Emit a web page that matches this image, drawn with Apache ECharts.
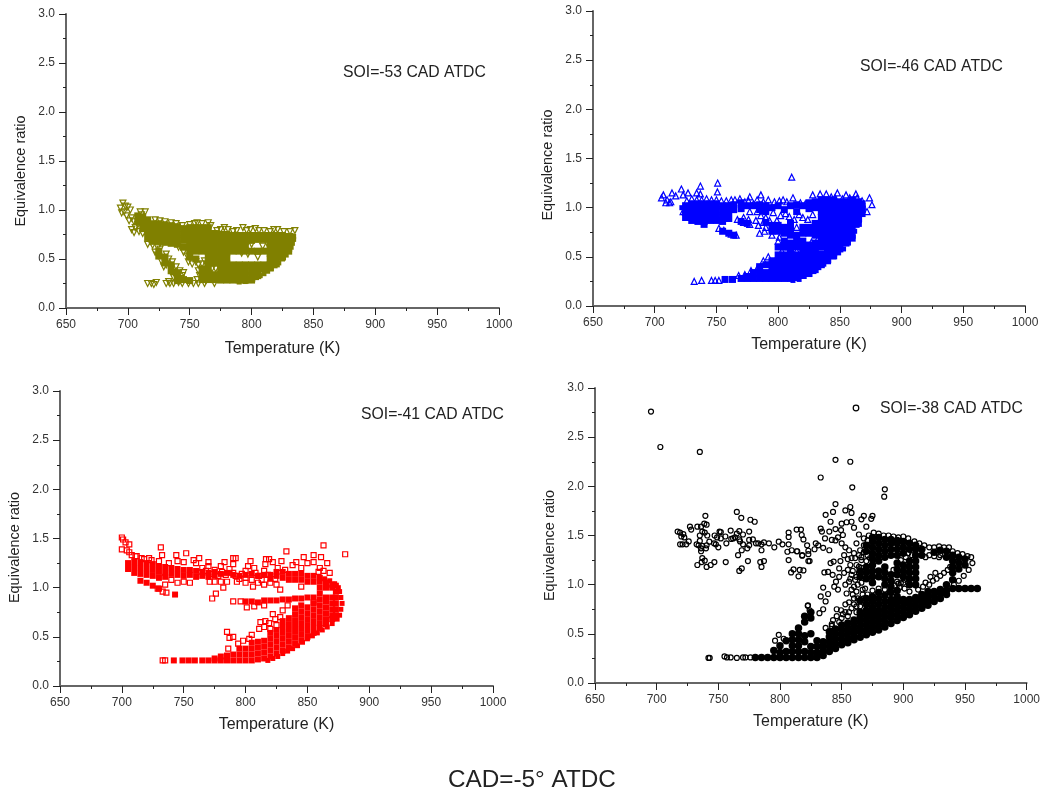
<!DOCTYPE html>
<html><head><meta charset="utf-8">
<script src="https://cdn.jsdelivr.net/npm/echarts@6/dist/echarts.min.js"></script>
<style>html,body{margin:0;padding:0;background:#fff}#c{width:1043px;height:792px}</style>
</head><body><div id="c"></div>
<script>
const xTicks = {min:650, max:1000, step:50};
const yTicks = {min:0, max:3, step:0.5};
const panelTitles = ['SOI=-53 CAD ATDC','SOI=-46 CAD ATDC','SOI=-41 CAD ATDC','SOI=-38 CAD ATDC'];
const xName = 'Temperature (K)';
const yName = 'Equivalence ratio';
const caption = 'CAD=-5\u00B0 ATDC';

// Solid regions: each row is [temperature, ratio, ratio, ...]
const soi53Solid = [
[708,.94,.88],[712,.93,.87,.81],[716,.9,.84,.78,.72],[720,.86,.8,.74,.68],[725,.86,.8,.74,.68,.58,.53],
[730,.85,.79,.73,.67,.52,.46],[735,.84,.78,.72,.66,.44,.38],[740,.83,.77,.71,.65,.36,.3,.28],[745,.81,.75,.69,.62,.29],
[750,.82,.76,.7,.64,.58,.52,.28],[755,.82,.76,.7,.64,.58,.5],[760,.82,.76,.7,.64,.58,.4,.34,.29],
[765,.82,.76,.7,.64,.58,.52,.46,.4,.34,.29],[770,.76,.7,.64,.58,.52,.46,.34,.29],
[775,.75,.69,.63,.57,.51,.45,.4,.34,.285],[780,.75,.69,.63,.57,.51,.45,.39,.34,.285],
[785,.74,.68,.62,.58,.44,.39,.34,.285],[790,.74,.68,.62,.58,.44,.39,.34,.285],[795,.74,.68,.62,.58,.44,.38,.33,.285],
[800,.74,.69,.58,.44,.38,.33,.285],[805,.74,.7,.58,.44,.38,.33],[810,.74,.7,.58,.44,.4],
[815,.74,.68,.62,.56,.5,.44,.41],[820,.74,.68,.62,.56,.5,.45],[825,.74,.68,.62,.56,.52],[830,.73,.67,.61,.58]
];
const soi53Edge = [[790,.265],[795,.27],[798,.28],[801,.295],[804,.31],[807,.33],[810,.35],[813,.375],[816,.4],[819,.43],[822,.46],[825,.5],[828,.54],[830,.58],[832,.62],[833,.66],[834,.7],[832,.74],[834,.73]];
const soi53Open = [
[696,1.07],[698,1.04],[694,1.02],[700,1.03],[697,.98],[702,1.0],[695,.97],[699,.94],[703,.92],[701,.89],[705,.88],[708,.85],
[706,.82],[703,.8],[709,.78],[712,.76],[705,.77],[710,.98],[714,.98],[711,.95],[718,.68],[716,.65],[720,.64],[724,.62],[726,.66],
[722,.57],[724,.54],[727,.48],[731,.44],[729,.42],[735,.41],[737,.36],[741,.33],[743,.3],[741,.26],
[726,.6],[731,.55],[733,.5],[736,.47],[739,.42],[742,.38],[745,.36],[744,.33],[737,.31],[733,.27],
[760,.45],[757,.38],[758,.33],[756,.29],[763,.28],[768,.4],[771,.4],
[716,.25],[719,.25],[723,.26],[721,.24],[731,.25],[734,.25],[737,.25],[744,.25],[749,.25],[753,.25],[757,.25],[762,.25],[770,.25],
[722,.9],[726,.89],[730,.88],[735,.87],[739,.86],[744,.84],[750,.85],[754,.86],
[756,.87],[760,.86],[765,.87],[767,.84],[772,.79],[775,.8],[778,.82],[781,.8],[785,.78],[788,.79],[793,.82],[796,.79],[799,.8],[803,.81],[806,.79],
[810,.79],[815,.78],[818,.8],[821,.8],[826,.78],[831,.78],[835,.79],[749,.47],[752,.45],[755,.47],[757,.44],
[741,.62],[745,.57],[748,.53],[762,.48],[766,.52],[773,.47],[792,.56],[797,.55],[805,.52],[809,.63],[813,.65],[800,.65],[768,.33]
];
const soi46Solid = [
[725,1.02,.96,.9],[730,1.04,.98,.92,.87],[735,1.04,.98,.92,.86],[740,1.04,.98,.92,.86,.83],[745,1.04,.98,.92,.87],
[750,1.04,.98,.92,.87],[755,1.02,.96,.9,.86,.76],[760,1.02,.96,.89,.74],[764,1.03,.98,.72],[770,1.05,.99,.86,.28],
[757,.27],[763,.27],[775,1.02,.84,.28,.3],[780,1.02,.28,.34],[785,1.03,.98,.28,.34,.4],[790,1.02,.96,.85,.28,.34,.42],
[795,1.0,.82,.76,.28,.34,.4,.46],[800,1.02,.82,.76,.6,.28,.34,.4,.46,.52],[805,.98,.8,.74,.66,.6,.28,.34,.4,.46,.52],
[810,1.02,.84,.78,.72,.64,.58,.28,.34,.4,.46,.52],[815,1.03,.96,.72,.66,.6,.29,.34,.4,.46,.52],
[820,1.02,.8,.74,.66,.6,.31,.36,.42,.48,.54],[825,1.05,.99,.8,.74,.62,.33,.38,.44,.5,.56],
[830,1.06,1.0,.84,.78,.72,.64,.37,.42,.48,.54,.58],[835,1.08,1.02,.96,.9,.84,.78,.72,.66,.6,.42,.47,.53],
[840,1.08,1.03,.98,.92,.86,.8,.74,.68,.62,.56,.46,.51],[845,1.08,1.02,.96,.9,.84,.78,.72,.66,.6,.54,.51],
[850,1.06,1.0,.94,.88,.82,.76,.7,.64,.58],[855,1.06,1.0,.94,.88,.82,.76,.7,.64],
[860,1.08,1.02,.96,.9,.84,.78,.72,.69],[865,1.06,1.0,.94,.88,.84],[868,1.04,.98,.94]
];
const soi46Edge = [[812,.26],[817,.27],[821,.3],[825,.325],[829,.35],[833,.39],[837,.425],[841,.46],[845,.5],[849,.54],[853,.58],[857,.64],[860,.7],[862,.76],[864,.82],[866,.88],[868,.94],[869,1.0],[722,1.0],[724,.94]];
const soi46Open = [
[811,1.31],[751,1.25],[737,1.22],[721.6,1.19],[750.8,1.16],[714,1.15],[707,1.13],[705.5,1.1],[727,1.15],[723,1.13],[734,1.15],[737,1.14],[717,1.12],
[710,1.08],[709,1.05],[712,1.05],[713,1.06],[723,.96],[786,1.13],[777,1.11],[792,1.08],[828,1.13],[834,1.14],[839,1.14],[848,1.15],[855,1.13],[863,1.14],
[874,1.1],[876,1.03],[872,.96],[777,.96],[785,.74],[789,.76],[732,.25],[738,.26],[746,.26],[749,.26],[752,.26],
[726,1.07],[730,1.09],[734,1.08],[738,1.08],[742,1.09],[746,1.08],[750,1.08],[754,1.07],[758,1.07],[762,1.08],[843,1.11],[846,1.1],[852,1.09],[858,1.1],[864,1.1],[868,1.07],
[765,1.08],[769,1.09],[773,1.06],[776,1.07],[780,1.04],[783,1.08],[788,1.06],[797,1.06],[801,1.07],[804,1.08],[807,1.06],[812,1.1],[818,1.05],[822,1.04],
[767,.88],[772,.9],[776,.88],[782,.87],[786,.92],[790,.9],[793,.87],[799,.87],[802,.92],[806,.94],[809,.91],[813,.88],[817,.93],[820,.9],[824,.88],[828,.93],[790,.8],[788,.85],
[752,.79],[756,.77],[762,.73],[766,.72],[784,.82],[772,.85],[777,.83],[801,.7],[795,.72],[788,.97],[783,.96],[796,.95],[826,.6],[832,.68],[815,.8],
[800,.66],[808,.6],[778,.36],[783,.38],[773,.32],[768,.31],[788,.46],[792,.5],[803,.56],[815,.56],[823,.58],[827,.65]
];
const soi41Solid = [
[705,1.25,1.19],[710,1.27,1.21,1.15],[715,1.26,1.2,1.14,1.07],[720,1.25,1.19,1.13,1.05],[725,1.24,1.18,1.12,1.02],[730,1.22,1.16,1.1,.99],
[735,1.21,1.15,1.11],[740,1.2,1.14],[743,.93],[745,1.19,1.13],[750,1.18,1.12],[755,1.18,1.13],[760,1.17,1.11],[765,1.16,1.12],[770,1.15,1.11],
[775,1.16,1.12],[780,1.14],[785,1.15],[790,1.13],[795,1.12],[800,1.13],[805,1.14],[810,1.12],[815,1.13],[820,1.13,1.09],
[830,1.1,1.16],[835,1.08,1.14],[840,1.08,1.14],[845,1.08,1.14],[825,1.12,1.16],
[800,.86],[805,.86],[810,.85],[815,.87],[820,.87],[825,.87],[830,.88],[835,.88],[840,.89],[845,.89],
[742,.26],[749,.26],[754,.26],[759,.26],
[765,.26],[770,.26],[775,.26,.28],[780,.26,.3],[785,.26,.31],[790,.26,.32],[795,.26,.32,.38],[800,.26,.32,.38],[805,.26,.32,.38,.44],
[810,.27,.33,.39,.45],[815,.28,.34,.4,.46],[820,.3,.36,.42,.48,.54],[825,.33,.39,.45,.51,.57],[830,.36,.42,.48,.54,.6,.66],
[835,.39,.45,.51,.57,.63,.69],[840,.43,.49,.55,.61,.67,.73,.79],[845,.46,.52,.58,.64,.7,.76,.82],
[850,.5,.56,.62,.68,.74,.8,.9,1.06,1.12],[855,.54,.6,.66,.72,.78,.84,.9,1.06,1.12],
[860,.59,.64,.7,.76,.82,.88,.94,1.0,1.06,1.1],[865,.63,.68,.74,.8,.86,.9,1.0,1.05],[870,.68,.72,.78,.84,.9,1.0,1.03],[873,.72,.78,.84,.9,.96,1.02]
];
const soi41Edge = [[818,.26],[822,.28],[826,.3],[830,.33],[834,.355],[838,.38],[842,.41],[846,.445],[850,.48],[854,.51],[858,.54],[862,.57],[866,.6],[870,.635],[874,.68],[876,.72],[877,.78],[878,.84],[877,.9],[876,.96],[875,1.0],[872,1.04],[868,1.07],[864,1.09]];
const soi41Open = [
[700,1.51],[701,1.49],[703,1.46],[706,1.44],[704,1.38],[700,1.39],[706,1.36],[708,1.33],[711,1.32],[731.5,1.41],[732.5,1.33],[752,1.35],[744,1.33],[722,1.3],[712,1.32],[716,1.3],
[833,1.37],[863,1.43],[880.5,1.34],[847,1.31],[855,1.33],[861,1.31],[866,1.25],[868,1.15],[859,1.16],[816.5,1.29],[819,1.29],[790,1.3],[792,1.3],[783,1.26],[770,1.26],[762.5,1.3],[758,1.28],
[773,.89],[776,.94],[782,1.0],[771,1.06],[775,1.06],[780,1.06],[793,1.06],[800,1.05],[806,1.01],[790,.86],[796,.86],[801,.8],[807,.81],[815,.82],[785,.55],[787,.49],[790,.5],[798,.46],
[805,.52],[803,.48],[811,.58],[816,.66],[822,.73],[830,.77],[834,.82],[828,.98],[845,1.01],[855,.85],[786,.38],[794,.43],[812,.65],[819,.64],[824,.68],[828,.7],[815,.6],[820,.58],[825,.62],
[765,1.2],[768,1.17],[772,1.14],[775,1.18],[778,1.12],[781,1.16],[784,1.13],[787,1.19],[790,1.15],[790,1.24],[792,1.12],[795,1.09],[797,1.14],[800,1.17],[802,1.22],[804,1.27],[807,1.2],[808,1.15],
[811,1.12],[813,1.08],[815,1.17],[816,1.24],[818,1.13],[820,1.05],[822,1.26],[824,1.09],[826,1.2],[829,1.27],[832,1.18],[838,1.23],[841,1.26],[845,1.2],[850,1.25],[855,1.26],[860,1.2],[863,1.17],
[800,1.1],[805,1.08],[810,1.05],[815,1.03],[825,1.03],[780,1.22],[770,1.22],[760,1.25],[750,1.26],[745,1.27],[738,1.25],[730,1.27],[724,1.28],[718,1.29],[785,1.06],
[733,.26],[735,.26],[729,.99],[733,.96],[736,.95],[735,1.03],[740,1.08],[745,1.05],[750,1.06],[755,1.05]
];
const soi38Solid = [
[780,.26],[785,.26],[790,.26],[795,.26,.33],[800,.26,.31,.38],[805,.26,.32,.43],[810,.26,.32,.38,.44,.5],[815,.26,.32,.38,.44,.5,.56],
[820,.26,.32,.42,.48,.62,.68],[825,.26,.31,.37,.5,.66,.72],[830,.26,.31,.37,.43],
[835,.28,.33,.38,.42],[840,.32,.37,.42,.47,.52],[845,.35,.4,.45,.5,.55],[850,.39,.44,.49,.54,.59],[855,.41,.46,.51,.56,.61],[860,.44,.49,.54,.59,.64],
[865,.465,.52,.57,.62,.67,.72,.84,1.08,1.14],
[870,.49,.54,.59,.64,.69,.74,.8,.86,1.06,1.12,1.18,1.34,1.4],
[875,.515,.57,.62,.67,.72,.77,.83,.88,1.02,1.08,1.14,1.2,1.26,1.32,1.38,1.44,1.48],
[880,.54,.59,.64,.69,.74,.8,.86,.92,1.08,1.14,1.24,1.3,1.36,1.42,1.48],
[885,.57,.62,.67,.72,.77,.83,.89,1.0,1.06,1.12,1.18,1.28,1.34,1.4,1.46],
[890,.605,.66,.71,.76,.8,.85,.92,.98,1.04,1.1,1.3,1.36,1.42,1.46],
[895,.635,.69,.74,.79,.83,.88,.94,1.1,1.16,1.22,1.3,1.36,1.42,1.45],
[900,.665,.72,.77,.82,.85,1.08,1.14,1.2,1.32,1.38,1.44],
[905,.695,.75,.8,.85,1.0,1.06,1.12,1.18,1.24,1.36,1.42],
[910,.73,.78,.83,.87,1.0,1.06,1.12,1.18,1.24,1.3,1.36,1.4],
[915,.76,.81,.86,.9,1.3,1.36],[920,.79,.84,.89,.93],[925,.83,.88,.93,1.33],[930,.86,.91,.95,1.35],
[935,.9,.94,1.0,1.28,1.34],[940,.96,1.05,1.12,1.18,1.24,1.3],[945,.96,1.16,1.22,1.28],[950,.96,1.2,1.26],[955,.96],[960,.96]
];
const soi38Edge = [];
const soi38Open = [
[695.4,2.76],[703,2.4],[735,2.35],[765,1.74],[739.5,1.7],[768.6,1.68],[776,1.66],[779.5,1.64],[740.5,1.61],[738.6,1.62],[727,1.59],[733,1.59],[736,1.59],[728,1.56],[737,1.54],[739,1.53],
[717,1.54],[719,1.53],[721.6,1.515],[720,1.49],[722.4,1.48],[735,1.5],[741,1.5],[751,1.54],[752,1.535],[760,1.55],[767,1.545],[765,1.52],[775,1.54],[747,1.5],[749,1.48],[755.7,1.49],[752,1.47],
[763.5,1.48],[762,1.47],[760.5,1.465],[767,1.46],[770,1.51],[775,1.455],[778,1.46],[719,1.41],[721,1.41],[724,1.41],[726,1.44],[735,1.445],[742.7,1.437],[732.4,1.41],[734,1.4],[737,1.395],[740.5,1.4],
[736,1.37],[736,1.34],[740,1.37],[746.5,1.42],[748,1.41],[750,1.38],[756.5,1.42],[767.6,1.44],[770,1.41],[775,1.4],[773.5,1.37],[780.5,1.42],[782.4,1.42],[785,1.41],[787,1.43],[791,1.42],[795.4,1.38],
[799,1.437],[802,1.41],[785,1.35],[769,1.35],[766,1.3],[737,1.27],[739,1.245],[736.5,1.23],[733,1.2],[740.5,1.18],[743.8,1.2],[746.8,1.23],[756,1.23],[774,1.24],[784,1.23],[787,1.24],[785,1.18],[767,1.14],
[769,1.165],[807,1.25],[809,1.125],[811,1.155],[815,1.085],[816,1.15],[819,1.145],[807,1.53],[807,1.485],[813.5,1.56],[817,1.56],[817.6,1.505],[819,1.46],[807,1.41],[822,1.4],[806,1.335],[809.5,1.35],[814,1.34],[818,1.3],[823,1.345],[824,1.24],
[796,.43],[799,.49],[803,.45],[822.7,.79],[824,.74],[742,.255],[743,.255],[755,.27],[757,.26],[760,.26],[765,.255],[770,.26],[772,.26],[776,.26],
[845,2.27],[857,2.25],[833,2.09],[858.6,1.99],[885,1.97],[884.5,1.895],[845,1.82],[857,1.79],[853,1.755],[858,1.73],[837,1.71],[843,1.74],[868,1.7],[866,1.665],[875,1.7],[874,1.67],[841,1.64],[854,1.635],[850,1.62],[858,1.64],
[833,1.57],[834,1.54],[840,1.54],[845,1.565],[849.5,1.555],[860,1.58],[870,1.59],[836.5,1.47],[842,1.455],[847,1.48],[851,1.505],[864,1.51],[829,1.42],[831,1.4],[835,1.375],[840,1.35],[823,1.31],[828,1.36],[818,1.295],[823,1.24],[813.6,1.34],
[841,1.22],[843.5,1.235],[849,1.24],[855,1.26],[836,1.125],[839,1.13],[842.7,1.1],[848,1.165],[848,1.08],[845.4,1.03],[844,.98],[847,.95],[835,.97],[839,.905],[833,.88],[837,.83],[822.5,.785],[854,.91],[860,.86],[856,.82],[832,.71],[835,.75],[843,.64],[837,.56],[849.5,.74],
[845,1.45],[850,1.42],[853,1.38],[856,1.35],[852,1.3],[858,1.27],[855,1.15],[852,1.12],[858,1.1],[856,1.03],[853,1.0],[860,.98],[858,.95],[851,.7],[856,.72],[862,.78],[865,.83],[868,.86],[871,.9],[861,1.05],[864,1.12],[862,1.2],[866,1.25],
[860,1.32],[865,1.35],[862,1.42],[868,1.47],[872,1.5],[876,1.53],[880,1.52],[884,1.5],[888,1.5],[892,1.49],[896,1.48],[900,1.49],[904,1.47],[909,1.44],[913,1.42],[917,1.4],[921,1.38],[925,1.38],[929,1.39],[933,1.38],[937,1.38],[940,1.34],
[944,1.32],[948,1.31],[952,1.29],[955,1.28],[956,1.22],[953,1.15],[949,1.09],[945,1.04],[941,1.0],[875,.94],[880,.96],[885,.95],[889,.93],[893,.99],[897,.97],[901,.96],[905,.93],[892,1.15],[896,1.01],[900,1.02],
[921,1.0],[924,1.04],[927,1.06],[930,1.09],[933,1.12],[936,1.15],[938,1.18],[921,1.3],[925,1.29],[929,1.28],[918,1.28],[930,1.3],[926,1.12],[922,1.08],
[846,.75],[853,.8],[867,.95],[850,.66],[866,1.28],[868,1.33],[863,1.0],[859,.9],
[862,.72],[858,.76],[865,.78],[867,.9],[863,.86],[869,.96],[866,1.02],[868,1.1],[866,1.17],[870,1.24],[871,1.3],[868,1.4],[871,1.45],[873,1.27],
[862,1.08],[864,1.18],[859,1.14],[857,1.2],[861,1.27],[864,1.3],[857,1.06],[862,.93],[860,.8],[855,.68],[848,.62],[853,.72],[846,.68],[842,.58],
[902,1.28],[898,1.25],[904,1.32],[907,1.3],[901,1.05],[898,1.02],[895,1.03],[912,.95],[916,.98],[918,1.02],[842,.6]
];

const grids = [
  {left:66, top:14, width:433, height:294},
  {left:593, top:11, width:432, height:295},
  {left:60, top:391, width:433, height:295},
  {left:595, top:388, width:433, height:295}
];
const titlePos = [[343,65],[860,59],[361,407],[880,401]];
const xNameGap = [33,31,31,31];
const yNameShift = [20,13,18,20];
const styles = [
  {c:'#808000', sym:'triangle', rot:180, size:6, solid:7, solidSym:'rect'},
  {c:'#0000ff', sym:'triangle', rot:0, size:6, solid:7, solidSym:'rect'},
  {c:'#ff0000', sym:'rect', rot:0, size:5, solid:6, solidSym:'rect'},
  {c:'#000000', sym:'circle', rot:0, size:5, solid:7.5, solidSym:'circle'}
];
const solidSets = [soi53Solid, soi46Solid, soi41Solid, soi38Solid];
const edgeSets = [soi53Edge, soi46Edge, soi41Edge, soi38Edge];
const openSets = [soi53Open, soi46Open, soi41Open, soi38Open];
const expandRows = rows => rows.flatMap(r => r.slice(1).map(v => [r[0], v]));

const axisBase = {
  type:'value',
  axisLine:{show:true,onZero:false,lineStyle:{color:'#666',width:2}},
  axisTick:{show:true,length:7,lineStyle:{color:'#222',width:1}},
  minorTick:{show:true,splitNumber:2,length:3,lineStyle:{color:'#222',width:1}},
  splitLine:{show:false},minorSplitLine:{show:false}
};
const xAxes = grids.map((g,i)=>({...axisBase,
  gridIndex:i, min:xTicks.min, max:xTicks.max, interval:xTicks.step,
  name:xName, nameLocation:'middle', nameGap:xNameGap[i],
  nameTextStyle:{fontFamily:'Liberation Sans',fontSize:16,color:'#222'},
  axisLabel:{fontFamily:'Liberation Sans',fontSize:12,color:'#333',margin:11,formatter:v=>String(v)}
}));
const yAxes = grids.map((g,i)=>({...axisBase,
  gridIndex:i, min:yTicks.min, max:yTicks.max, interval:yTicks.step,
  name:yName, nameLocation:'middle', nameGap:38,
  nameTextStyle:{fontFamily:'Liberation Sans',fontSize:14.5,color:'#222',padding:[0,yNameShift[i],0,0]},
  axisLabel:{fontFamily:'Liberation Sans',fontSize:12,color:'#333',margin:11,formatter:v=>v.toFixed(1)}
}));
const series = [];
styles.forEach((s,i)=>{
  series.push({type:'scatter',name:panelTitles[i]+' dense',xAxisIndex:i,yAxisIndex:i,data:expandRows(solidSets[i]),
    symbol:s.solidSym,symbolSize:s.solid,silent:true,animation:false,
    itemStyle:{color:s.c,opacity:1}});
  series.push({type:'scatter',name:panelTitles[i]+' edge',xAxisIndex:i,yAxisIndex:i,data:edgeSets[i],
    symbol:'rect',symbolSize:5,silent:true,animation:false,
    itemStyle:{color:s.c,opacity:1}});
  series.push({type:'scatter',name:panelTitles[i],xAxisIndex:i,yAxisIndex:i,data:openSets[i],
    symbol:s.sym,symbolSize:s.size,symbolRotate:s.rot,silent:true,animation:false,
    itemStyle:{color:'rgba(255,255,255,0)',borderColor:s.c,borderWidth:1.2,opacity:1}});
});
const chart = echarts.init(document.getElementById('c'),null,{renderer:'canvas'});
chart.setOption({
  animation:false, backgroundColor:'#fff',
  grid:grids.map(g=>({...g,containLabel:false})),
  xAxis:xAxes, yAxis:yAxes, series,
  title:[
    ...panelTitles.map((t,i)=>({text:t,left:titlePos[i][0],top:titlePos[i][1],
      textStyle:{fontFamily:'Liberation Sans',fontSize:15.75,fontWeight:'normal',color:'#222'},padding:0})),
    {text:caption,left:448,top:768,textStyle:{fontFamily:'Liberation Sans',fontSize:24.3,fontWeight:'normal',color:'#222'},padding:0}
  ],
  graphic:[{type:'circle',shape:{cx:856,cy:408,r:2.8},style:{fill:'transparent',stroke:'#000',lineWidth:1.2}}]
});
</script></body></html>
